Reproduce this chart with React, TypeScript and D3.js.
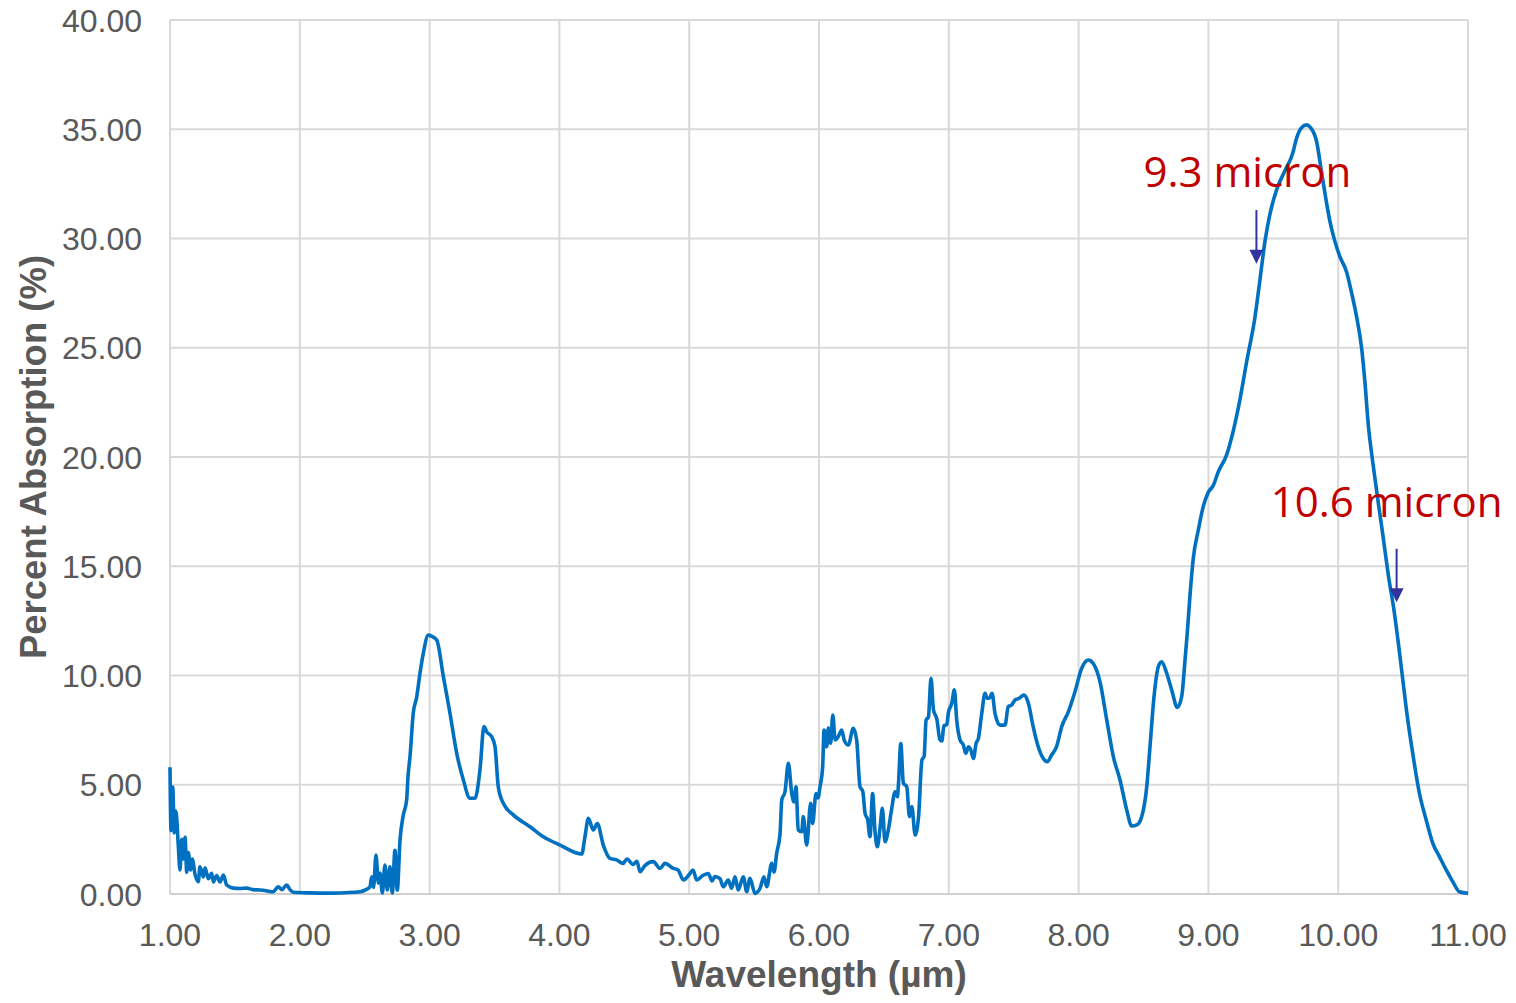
import React from "react";
import * as d3 from "d3";

const wavelength: number[] = [
  1.0, 1.008, 1.021, 1.033, 1.042, 1.05, 1.064, 1.077, 1.09, 1.102, 1.116, 1.129, 1.141, 1.159, 1.171, 1.193,
  1.218, 1.231, 1.257, 1.27, 1.295, 1.321, 1.334, 1.36, 1.385, 1.411, 1.437, 1.488, 1.539, 1.591, 1.639, 1.693,
  1.74, 1.794, 1.834, 1.863, 1.899, 1.925, 1.95, 2.079, 2.233, 2.348, 2.464, 2.51, 2.541, 2.554, 2.568, 2.587,
  2.605, 2.618, 2.636, 2.656, 2.674, 2.695, 2.713, 2.733, 2.751, 2.772, 2.797, 2.823, 2.834, 2.849, 2.874, 2.901,
  2.926, 2.951, 2.99, 3.015, 3.055, 3.106, 3.157, 3.209, 3.26, 3.311, 3.35, 3.388, 3.419, 3.44, 3.478, 3.504,
  3.529, 3.568, 3.645, 3.773, 3.876, 4.005, 4.172, 4.197, 4.223, 4.261, 4.292, 4.338, 4.39, 4.441, 4.49, 4.521,
  4.567, 4.598, 4.621, 4.659, 4.723, 4.775, 4.813, 4.878, 4.914, 4.955, 5.006, 5.029, 5.058, 5.106, 5.147, 5.176,
  5.199, 5.237, 5.263, 5.301, 5.327, 5.353, 5.378, 5.417, 5.443, 5.468, 5.507, 5.545, 5.576, 5.597, 5.636, 5.653,
  5.674, 5.7, 5.713, 5.738, 5.764, 5.79, 5.807, 5.823, 5.84, 5.867, 5.879, 5.905, 5.936, 5.951, 5.977, 5.992,
  6.008, 6.028, 6.039, 6.059, 6.072, 6.09, 6.106, 6.125, 6.148, 6.175, 6.194, 6.226, 6.264, 6.29, 6.316, 6.337,
  6.355, 6.375, 6.393, 6.413, 6.431, 6.449, 6.47, 6.488, 6.509, 6.534, 6.56, 6.586, 6.604, 6.611, 6.63, 6.65,
  6.676, 6.697, 6.715, 6.741, 6.767, 6.793, 6.81, 6.825, 6.843, 6.863, 6.882, 6.908, 6.932, 6.946, 6.963, 6.984,
  6.997, 7.023, 7.043, 7.061, 7.087, 7.112, 7.131, 7.151, 7.169, 7.19, 7.21, 7.228, 7.254, 7.279, 7.295, 7.312,
  7.333, 7.356, 7.394, 7.433, 7.458, 7.484, 7.51, 7.541, 7.579, 7.613, 7.65, 7.689, 7.728, 7.758, 7.792, 7.83,
  7.87, 7.921, 7.972, 8.024, 8.075, 8.113, 8.165, 8.217, 8.268, 8.319, 8.371, 8.409, 8.448, 8.486, 8.525, 8.55,
  8.581, 8.614, 8.64, 8.679, 8.717, 8.761, 8.794, 8.82, 8.837, 8.858, 8.884, 8.922, 8.961, 8.999, 9.038, 9.076,
  9.141, 9.192, 9.243, 9.295, 9.359, 9.398, 9.436, 9.475, 9.526, 9.59, 9.649, 9.68, 9.719, 9.757, 9.786, 9.833,
  9.872, 9.911, 9.935, 9.974, 10.013, 10.065, 10.103, 10.142, 10.18, 10.206, 10.231, 10.27, 10.309, 10.347, 10.386, 10.432,
  10.463, 10.501, 10.536, 10.574, 10.626, 10.678, 10.729, 10.78, 10.832, 10.883, 10.934, 11.0,
];

const absorption: number[] = [
  5.8, 2.9, 4.9, 2.8, 3.8, 3.6, 2.2, 1.1, 2.5, 1.6, 2.6, 1.0, 1.9, 1.1, 1.6, 0.9,
  0.56, 1.25, 0.78, 1.2, 0.7, 0.95, 0.55, 0.85, 0.55, 0.87, 0.41, 0.27, 0.25, 0.27, 0.2, 0.18,
  0.15, 0.1, 0.33, 0.2, 0.41, 0.2, 0.08, 0.05, 0.04, 0.06, 0.1, 0.2, 0.33, 0.79, 0.3, 1.78,
  0.5, 0.96, 0.05, 1.33, 0.18, 1.25, 0.05, 2.0, 0.18, 2.47, 3.6, 4.3, 5.4, 6.28, 8.27, 9.03,
  10.1, 11.0, 11.85, 11.8, 11.62, 9.95, 8.27, 6.44, 5.22, 4.38, 4.38, 5.68, 7.66, 7.42, 7.2, 6.74,
  4.91, 4.15, 3.62, 3.08, 2.62, 2.24, 1.83, 2.62, 3.46, 2.93, 3.23, 2.24, 1.63, 1.56, 1.4, 1.6,
  1.35, 1.5, 1.02, 1.3, 1.48, 1.17, 1.4, 1.17, 1.1, 0.64, 0.94, 1.1, 0.64, 0.85, 0.94, 0.6,
  0.8, 0.7, 0.33, 0.64, 0.26, 0.79, 0.18, 0.79, 0.1, 0.72, 0.03, 0.25, 0.79, 0.33, 1.4, 1.0,
  1.86, 2.77, 4.3, 4.68, 5.98, 4.6, 4.22, 4.91, 2.93, 2.85, 3.54, 2.24, 4.15, 3.23, 4.6, 4.4,
  4.91, 5.8, 7.5, 6.74, 7.6, 6.9, 8.19, 7.05, 7.2, 7.5, 7.05, 6.82, 7.58, 7.05, 4.91, 4.7,
  3.69, 3.4, 2.62, 4.6, 2.9, 2.16, 3.0, 3.92, 2.39, 2.93, 3.9, 4.68, 4.45, 4.9, 6.89, 5.07,
  4.91, 3.54, 4.0, 2.7, 3.54, 6.13, 6.3, 7.96, 8.1, 9.87, 8.42, 8.0, 7.05, 7.0, 7.7, 7.75,
  8.3, 8.73, 9.34, 7.96, 7.05, 6.82, 6.44, 6.74, 6.6, 6.2, 6.89, 7.12, 8.27, 9.18, 8.96, 8.96,
  9.18, 8.27, 7.73, 7.73, 8.57, 8.65, 8.88, 8.95, 9.1, 8.73, 7.66, 6.74, 6.2, 6.05, 6.36, 6.74,
  7.66, 8.34, 9.26, 10.33, 10.71, 10.55, 9.71, 7.96, 6.28, 5.22, 3.84, 3.11, 3.16, 3.54, 4.91, 6.74,
  9.03, 10.4, 10.63, 10.1, 9.34, 8.54, 9.03, 10.71, 11.93, 13.65, 15.39, 16.65, 17.75, 18.38, 18.7, 19.32,
  20.11, 21.21, 22.63, 24.37, 26.41, 28.15, 29.88, 31.14, 32.24, 33.11, 33.89, 34.6, 35.08, 35.2, 35.08, 34.45,
  33.03, 31.61, 30.82, 29.88, 29.17, 28.46, 27.52, 26.41, 25.0, 23.42, 21.53, 19.6, 17.9, 16.3, 14.6, 12.9,
  11.5, 9.64, 7.96, 6.44, 4.6, 3.39, 2.32, 1.71, 1.1, 0.56, 0.1, 0.03,
];

const xTicks: number[] = [1, 2, 3, 4, 5, 6, 7, 8, 9, 10, 11];
const yTicks: number[] = [0, 5, 10, 15, 20, 25, 30, 35, 40];

const annotationLabels: string[] = ["9.3 micron", "10.6 micron"];
const annotationWavelengths: number[] = [9.37, 10.45];
const annotationArrowTop: number[] = [31.3, 15.8];
const annotationArrowTip: number[] = [28.85, 13.35];
const annotationLabelX: number[] = [8.5, 9.48];
const annotationLabelY: number[] = [32.35, 17.25];

const W = 1516;
const H = 1003;
const left = 170;
const right = 1468;
const top = 20;
const bottom = 894;

export default function App() {
  const x = d3.scaleLinear().domain([1, 11]).range([left, right]);
  const y = d3.scaleLinear().domain([0, 40]).range([bottom, top]);
  const pts = wavelength.map((w, i) => [w, absorption[i]] as [number, number]);
  const line = d3
    .line<[number, number]>()
    .x((d) => x(d[0]))
    .y((d) => y(d[1]))
    .curve(d3.curveMonotoneX);
  const fmt = d3.format(".2f");
  const gridColor = "#d9d9d9";
  const textColor = "#595959";
  const axisFont = "'Liberation Sans', Arial, sans-serif";

  return (
    <svg
      width={W}
      height={H}
      viewBox={`0 0 ${W} ${H}`}
      style={{ position: "absolute", left: 0, top: 0, background: "#fff" }}
    >
      <rect x={0} y={0} width={W} height={H} fill="#fff" />
      {yTicks.map((t) => (
        <line key={"gy" + t} x1={left} x2={right} y1={y(t)} y2={y(t)} stroke={gridColor} strokeWidth={2} />
      ))}
      {xTicks.map((t) => (
        <line key={"gx" + t} x1={x(t)} x2={x(t)} y1={top} y2={bottom} stroke={gridColor} strokeWidth={2} />
      ))}
      <line x1={left} x2={right} y1={bottom} y2={bottom} stroke="#d0d0d0" strokeWidth={2} />
      {yTicks.map((t) => (
        <text
          key={"ty" + t}
          x={142}
          y={y(t) + 11.5}
          textAnchor="end"
          fontFamily={axisFont}
          fontSize={32}
          fill={textColor}
        >
          {fmt(t)}
        </text>
      ))}
      {xTicks.map((t) => (
        <text
          key={"tx" + t}
          x={x(t)}
          y={946}
          textAnchor="middle"
          fontFamily={axisFont}
          fontSize={32}
          fill={textColor}
        >
          {fmt(t)}
        </text>
      ))}
      <text
        x={(left + right) / 2}
        y={987}
        textAnchor="middle"
        fontFamily={axisFont}
        fontSize={37}
        fontWeight="bold"
        fill={textColor}
      >
        Wavelength (µm)
      </text>
      <text
        transform={`translate(46, ${(top + bottom) / 2}) rotate(-90)`}
        textAnchor="middle"
        fontFamily={axisFont}
        fontSize={36.5}
        fontWeight="bold"
        fill={textColor}
      >
        Percent Absorption (%)
      </text>
      <path d={line(pts) || ""} fill="none" stroke="#0070c0" strokeWidth={3.6} strokeLinejoin="round" />
      {annotationLabels.map((lab, i) => {
        const ax = x(annotationWavelengths[i]);
        const y0 = y(annotationArrowTop[i]);
        const y1 = y(annotationArrowTip[i]);
        return (
          <g key={"ann" + i}>
            <line x1={ax} x2={ax} y1={y0} y2={y1 - 12} stroke="#3333a0" strokeWidth={2} />
            <path d={`M${ax - 7},${y1 - 14} L${ax + 7},${y1 - 14} L${ax},${y1} Z`} fill="#3333a0" />
            <text
              x={x(annotationLabelX[i])}
              y={y(annotationLabelY[i])}
              fontFamily="'Open Sans', 'Noto Sans', sans-serif"
              fontSize={42}
              fill="#c00000"
            >
              {lab}
            </text>
          </g>
        );
      })}
    </svg>
  );
}
